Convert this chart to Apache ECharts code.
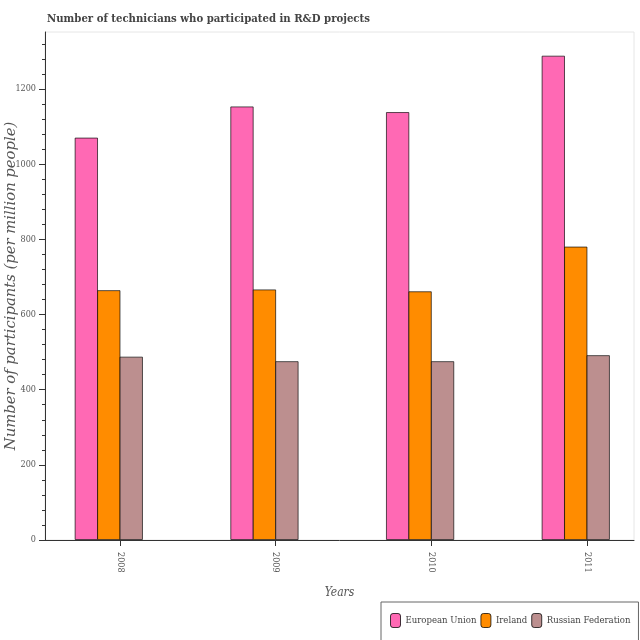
<!DOCTYPE html>
<html>
<head>
<meta charset="utf-8">
<script src="https://cdn.jsdelivr.net/npm/echarts@6/dist/echarts.min.js"></script>
<style>html,body{margin:0;padding:0;background:#fff;}#c{width:640px;height:640px;}</style>
</head>
<body>
<div id="c"></div>
<script>
const years = [2008, 2009, 2010, 2011];
const seriesNames = ['European Union', 'Ireland', 'Russian Federation'];
const euValues = [1071, 1154, 1139, 1289];
const irelandValues = [665, 667, 662, 781];
const russiaValues = [488, 476, 476, 492];
const yTicks = [0, 200, 400, 600, 800, 1000, 1200];
const yMinorTicks = [40, 80, 120, 160, 240, 280, 320, 360, 440, 480, 520, 560, 640, 680, 720, 760, 840, 880, 920, 960, 1040, 1080, 1120, 1160, 1240, 1280, 1320];
const colors = ['#FF69B4', '#FF8C00', '#BC8F8F'];

const chart = echarts.init(document.getElementById('c'), null, {renderer: 'canvas'});
const serifC = 'DejaVu Serif Condensed, DejaVu Serif, serif';
const pairs = vals => years.map((y, i) => [y, vals[i]]);
const barStyle = c => ({color: c, borderColor: 'rgba(0,0,0,0.65)', borderWidth: 1});

chart.setOption({
  animation: false,
  backgroundColor: '#fff',
  title: {
    text: 'Number of technicians who participated in R&D projects',
    left: 42, top: 9,
    textStyle: {fontFamily: serifC, fontWeight: 'bold', fontSize: 11.25, color: '#444'}
  },
  grid: {left: 45, top: 32, right: 6, bottom: 100, show: true, borderColor: '#e6e6e6', borderWidth: 1, containLabel: false, outerBoundsMode: 'none'},
  legend: {
    data: seriesNames,
    left: 381, top: 602,
    width: 300,
    orient: 'horizontal',
    padding: [11, 8, 14, 9],
    itemGap: 4,
    itemWidth: 10, itemHeight: 14,
    borderColor: '#666', borderWidth: 1,
    backgroundColor: '#fff',
    textStyle: {fontFamily: serifC, fontSize: 9.5, color: '#444'},
    itemStyle: {borderColor: 'rgba(0,0,0,0.75)', borderWidth: 1}
  },
  xAxis: {
    type: 'value',
    min: 2007.518, max: 2011.302,
    name: 'Years', nameLocation: 'middle', nameGap: 47, nameMoveOverlap: false,
    nameTextStyle: {fontFamily: serifC, fontStyle: 'italic', fontSize: 12, color: '#555'},
    axisLine: {show: true, lineStyle: {color: '#333', width: 1}},
    axisTick: {show: true, length: 6, customValues: years, lineStyle: {color: '#333'}},
    axisLabel: {show: true, customValues: years, rotate: -90, margin: 12, fontFamily: serifC, fontSize: 9, color: '#555', formatter: v => String(v)},
    splitLine: {show: false}
  },
  yAxis: [{
    type: 'value',
    min: 0, max: 1352,
    name: 'Number of participants (per million people)', nameLocation: 'middle', nameGap: 26, nameMoveOverlap: false,
    nameTextStyle: {fontFamily: 'DejaVu Serif, serif', fontStyle: 'italic', fontSize: 14.8, color: '#555'},
    axisLine: {show: true, lineStyle: {color: '#333', width: 1}},
    axisTick: {show: true, length: 6, customValues: yTicks, lineStyle: {color: '#333'}},
    axisLabel: {show: true, customValues: yTicks, margin: 9, fontFamily: serifC, fontSize: 9, color: '#555', formatter: v => String(v)},
    splitLine: {show: false}
  }, {
    type: 'value',
    min: 0, max: 1352,
    position: 'left',
    axisLine: {show: false},
    axisTick: {show: true, length: 3, customValues: yMinorTicks, lineStyle: {color: '#333'}},
    axisLabel: {show: false},
    splitLine: {show: false}
  }],
  series: [
    {name: seriesNames[0], type: 'bar', data: pairs(euValues), barWidth: 23.4, barGap: '-4%', itemStyle: barStyle(colors[0])},
    {name: seriesNames[1], type: 'bar', data: pairs(irelandValues), barWidth: 23.4, barGap: '-4%', itemStyle: barStyle(colors[1])},
    {name: seriesNames[2], type: 'bar', data: pairs(russiaValues), barWidth: 23.4, barGap: '-4%', itemStyle: barStyle(colors[2])},
    {name: 'spacer', type: 'bar', data: pairs([0, 0, 0, 0]), barWidth: 23.4, barGap: '-4%', silent: true, itemStyle: {color: 'rgba(0,0,0,0)', borderWidth: 0}}
  ]
});
</script>
</body>
</html>
